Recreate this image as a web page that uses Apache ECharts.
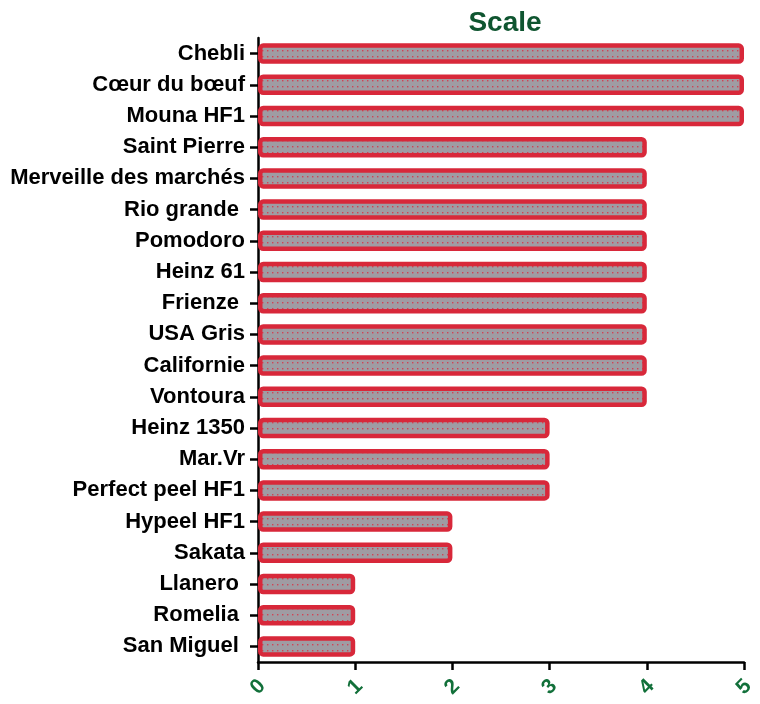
<!DOCTYPE html>
<html>
<head>
<meta charset="utf-8">
<script src="https://cdn.jsdelivr.net/npm/echarts@6/dist/echarts.min.js"></script>
<style>
	html, body { margin: 0; padding: 0; background: #fff; }
	#main { width: 760px; height: 704px; }
</style>
</head>
<body>
<div id="main"></div>
<script>
var varieties = [ "Chebli", "Cœur du bœuf", "Mouna HF1", "Saint Pierre",
		"Merveille des marchés", "Rio grande ", "Pomodoro", "Heinz 61",
		"Frienze ", "USA Gris", "Californie", "Vontoura", "Heinz 1350",
		"Mar.Vr", "Perfect peel HF1", "Hypeel HF1", "Sakata", "Llanero ",
		"Romelia ", "San Miguel " ];
var scale = [ 5, 5, 5, 4, 4, 4, 4, 4, 4, 4, 4, 4, 3, 3, 3, 2, 2, 1, 1, 1 ];

(function() {
	// gray fill with small red dots
	var pat = document.createElement('canvas');
	pat.width = 5;
	pat.height = 6;
	var ctx = pat.getContext('2d');
	ctx.fillStyle = '#9f9ca3';
	ctx.fillRect(0, 0, 5, 6);
	ctx.fillStyle = '#cf4455';
	ctx.fillRect(2, 2, 1.4, 1.4);

	var chart = echarts.init(document.getElementById('main'));
	var option = {
		animation : false,
		title : {
			text : 'Scale',
			left : 500,
			textAlign : 'center',
			top : 4,
			textStyle : {
				fontFamily : 'Liberation Sans',
				fontSize : 28,
				fontWeight : 'bold',
				color : '#0f5530'
			}
		},
		grid : {
			left : 258,
			right : 16,
			top : 38,
			bottom : 42
		},
		xAxis : {
			type : 'value',
			min : 0,
			max : 5,
			interval : 1,
			splitLine : { show : false },
			axisLine : { show : true, lineStyle : { color : '#000', width : 2.5 } },
			axisTick : { show : true, length : 8, lineStyle : { color : '#000', width : 2.5 } },
			axisLabel : {
				rotate : 45,
				margin : 25,
				align : 'center',
				verticalAlign : 'middle',
				color : '#12703a',
				fontFamily : 'Liberation Sans',
				fontWeight : 'bold',
				fontSize : 21
			}
		},
		yAxis : {
			type : 'category',
			inverse : true,
			data : varieties,
			axisLine : { show : true, lineStyle : { color : '#000', width : 2.5 } },
			axisTick : { show : true, alignWithLabel : true, length : 8, lineStyle : { color : '#000', width : 2.5 } },
			axisLabel : {
				margin : 13,
				color : '#000',
				fontFamily : 'Liberation Sans',
				fontWeight : 'bold',
				fontSize : 22
			}
		},
		series : [ {
			type : 'bar',
			data : scale,
			barWidth : 20.5,
			itemStyle : {
				color : { image : pat, repeat : 'repeat' },
				borderColor : '#d8283a',
				borderWidth : 4.5,
				borderRadius : 3
			}
		} ]
	};
	chart.setOption(option);
})();
</script>
</body>
</html>
